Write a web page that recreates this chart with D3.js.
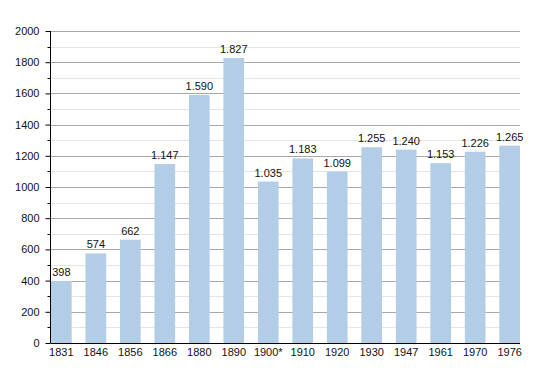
<!DOCTYPE html>
<meta charset="utf-8">
<html>
<head>
    <script src="https://d3js.org/d3.v7.js"></script>
    <style>
        body { margin: 0; background: #fff; }
        text { font-family: "Liberation Sans", Arial, sans-serif; }
    </style>
</head>
<body>
<script>
    // data
    var years = ["1831", "1846", "1856", "1866", "1880", "1890", "1900*", "1910", "1920", "1930", "1947", "1961", "1970", "1976"];
    var population = [398, 574, 662, 1147, 1590, 1827, 1035, 1183, 1099, 1255, 1240, 1153, 1226, 1265];
    var majorTicks = [0, 200, 400, 600, 800, 1000, 1200, 1400, 1600, 1800, 2000];
    var minorTicks = [100, 300, 500, 700, 900, 1100, 1300, 1500, 1700, 1900];

    var width = 550, height = 373;
    var plotLeft = 50.5, plotRight = 520, plotTop = 31, plotBottom = 343;

    var svg = d3.select("body").append("svg")
        .attr("width", width)
        .attr("height", height);

    var x = d3.scaleBand()
        .domain(years)
        .range([plotLeft + 0.5, plotRight])
        .paddingInner(0.4)
        .paddingOuter(0)
        .align(0);

    var y = d3.scaleLinear()
        .domain([0, 2000])
        .range([plotBottom, plotTop]);

    // grid lines
    svg.append("g")
        .selectAll("line")
        .data(minorTicks)
        .join("line")
        .attr("x1", plotLeft).attr("x2", plotRight)
        .attr("y1", d => Math.round(y(d)) + 0.5)
        .attr("y2", d => Math.round(y(d)) + 0.5)
        .attr("stroke", "#e4e4e4");

    svg.append("g")
        .selectAll("line")
        .data(majorTicks.slice(1))
        .join("line")
        .attr("x1", plotLeft).attr("x2", plotRight)
        .attr("y1", d => Math.round(y(d)) + 0.5)
        .attr("y2", d => Math.round(y(d)) + 0.5)
        .attr("stroke", "#a8a8a8");

    // bars
    svg.append("g")
        .selectAll("rect")
        .data(population)
        .join("rect")
        .attr("x", (d, i) => x(years[i]))
        .attr("width", x.bandwidth())
        .attr("y", d => y(d))
        .attr("height", d => y(0) - y(d))
        .attr("fill", "#b4cde6");

    // value labels
    var fmt = d3.formatLocale({ decimal: ",", thousands: ".", grouping: [3], currency: ["", "€"] }).format(",d");
    svg.append("g")
        .selectAll("text")
        .data(population)
        .join("text")
        .attr("x", (d, i) => x(years[i]) + x.bandwidth() / 2)
        .attr("y", d => y(d) - 5)
        .attr("text-anchor", "middle")
        .style("font-size", "11px")
        .attr("fill", "#111")
        .text(d => fmt(d));

    // y axis
    var yAxis = svg.append("g")
        .attr("transform", `translate(${plotLeft},0)`)
        .call(d3.axisLeft(y).tickValues(majorTicks).tickSize(5).tickPadding(6).tickFormat(d3.format("d")));
    yAxis.select(".domain").attr("d", `M0,${plotTop}V${plotBottom}`).attr("stroke", "#000");
    yAxis.selectAll(".tick line").attr("stroke", "#000");
    yAxis.selectAll(".tick text").style("font-size", "11px").attr("fill", "#111")
        .style("font-family", "'Liberation Sans', Arial, sans-serif");

    svg.append("g")
        .selectAll("line")
        .data(minorTicks)
        .join("line")
        .attr("x1", plotLeft - 3).attr("x2", plotLeft)
        .attr("y1", d => Math.round(y(d)) + 0.5)
        .attr("y2", d => Math.round(y(d)) + 0.5)
        .attr("stroke", "#000");

    // x axis
    var xAxis = svg.append("g")
        .attr("transform", `translate(0,${plotBottom})`)
        .call(d3.axisBottom(x).tickSize(0).tickPadding(5));
    xAxis.select(".domain").attr("d", `M${plotLeft},0.5H${plotRight}`).attr("stroke", "#000");
    xAxis.selectAll(".tick text").style("font-size", "11px").attr("fill", "#111")
        .style("font-family", "'Liberation Sans', Arial, sans-serif");
</script>
</body>
</html>
